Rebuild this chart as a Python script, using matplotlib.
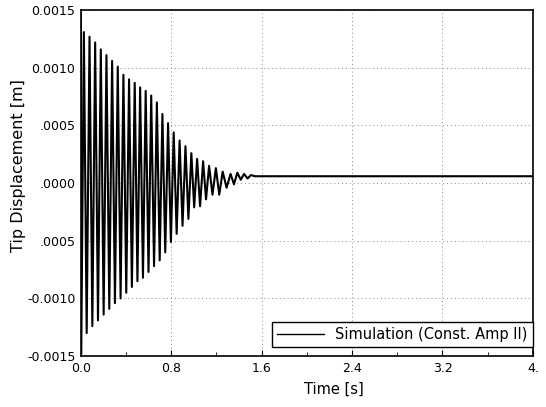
import numpy as np
import matplotlib
import matplotlib.pyplot as plt

matplotlib.use('Agg')

# turning points of the tip response (time [s], displacement [m])
peak_t = [0.000, 0.027, 0.077, 0.127, 0.177, 0.227, 0.277, 0.327, 0.377, 0.427,
          0.477, 0.525, 0.574, 0.623, 0.673, 0.722, 0.772, 0.822, 0.874, 0.926,
          0.978, 1.029, 1.082, 1.135, 1.195, 1.255, 1.325]
peak_y = [0.00148, 0.00131, 0.00127, 0.00122, 0.00116, 0.00111, 0.00106, 0.00101, 0.00094, 0.00090,
          0.00087, 0.00083, 0.00080, 0.00076, 0.00070, 0.00060, 0.00052, 0.00044, 0.00037, 0.00032,
          0.00026, 0.00021, 0.00019, 0.00015, 0.00013, 0.00010, 0.00008]
trough_t = [0.004, 0.052, 0.102, 0.152, 0.202, 0.252, 0.302, 0.352, 0.402, 0.452,
            0.501, 0.550, 0.599, 0.648, 0.698, 0.747, 0.797, 0.848, 0.900, 0.952,
            1.003, 1.055, 1.108, 1.165, 1.225, 1.290, 1.355]
trough_y = [-0.00148, -0.00130, -0.00124, -0.00119, -0.00114, -0.00109, -0.00104, -0.00100, -0.00095, -0.00090,
            -0.00085, -0.00082, -0.00077, -0.00072, -0.00067, -0.00060, -0.00051, -0.00044, -0.00037, -0.00031,
            -0.00021, -0.00020, -0.00014, -0.00010, -0.00010, -0.00004, -0.00001]
# small ripple before it settles, then flat to the end
tail_t = [1.385, 1.415, 1.445, 1.475, 1.505, 1.54, 4.0]
tail_y = [0.00009, 0.00003, 0.00008, 0.00004, 0.00007, 0.00006, 0.00006]

x_ticks = [0.0, 0.8, 1.6, 2.4, 3.2, 4.0]
x_labels = ['0.0', '0.8', '1.6', '2.4', '3.2', '4.']
y_ticks = [0.0015, 0.0010, 0.0005, 0.0, -0.0005, -0.0010, -0.0015]
y_labels = ['0.0015', '0.0010', '.0005', '.0000', '.0005', '-0.0010', '-0.0015']

t = np.concatenate([peak_t, trough_t, tail_t])
y = np.concatenate([peak_y, trough_y, tail_y])
order = np.argsort(t, kind='stable')
t, y = t[order], y[order]

fig = plt.figure(figsize=(5.46, 4.07), dpi=100)
ax = fig.add_axes([0.148, 0.125, 0.828, 0.85])

ax.plot(t, y, color='black', linewidth=1.5, label='Simulation (Const. Amp II)')

ax.set_xlim(0, 4.0)
ax.set_ylim(-0.0015, 0.0015)
ax.set_xticks(x_ticks)
ax.set_xticklabels(x_labels)
ax.set_yticks(y_ticks)
ax.set_yticklabels(y_labels)
ax.set_xticks(np.arange(0.4, 4.0, 0.8), minor=True)
ax.tick_params(axis='both', which='major', direction='in', length=4, labelsize=9, pad=4)
ax.tick_params(axis='x', which='minor', direction='in', length=3)
ax.tick_params(axis='y', which='both', length=0)

ax.grid(True, which='major', color='#888888', linestyle=(0, (1, 3)), linewidth=0.7)
for s in ax.spines.values():
    s.set_linewidth(1.2)
    s.set_color('black')

ax.set_xlabel('Time [s]', fontsize=10.5)
ax.xaxis.set_label_coords(0.56, -0.075)
ax.set_ylabel('Tip Displacement [m]', fontsize=11.5)
ax.yaxis.set_label_coords(-0.122, 0.55)

leg = ax.legend(loc='lower right', bbox_to_anchor=(1.0, 0.025), borderaxespad=0,
                fontsize=10.5, handlelength=3.2, fancybox=False, framealpha=1,
                edgecolor='black', borderpad=0.35)
leg.get_frame().set_linewidth(1.0)
leg.get_lines()[0].set_linewidth(1.0)

fig.savefig('out.png', dpi=100)
